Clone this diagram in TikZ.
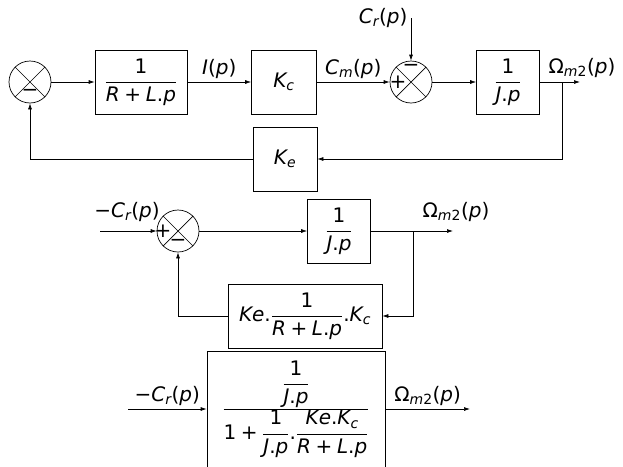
\documentclass[tikz,border=0pt]{standalone}
\usepackage[no-math]{fontspec}
\setmainfont{DejaVu Sans}
\newfontfamily\dvsfam[NFSSFamily=dvs]{DejaVu Sans}
\DeclareSymbolFont{dvsit}{TU}{dvs}{m}{it}
\DeclareSymbolFont{dvsup}{TU}{dvs}{m}{n}
\newcount\mch
\AtBeginDocument{%
 \mch=`A \loop \Umathcode\mch=0 \symdvsit\mch \advance\mch 1 \ifnum\mch<`[ \repeat
 \mch=`a \loop \Umathcode\mch=0 \symdvsit\mch \advance\mch 1 \ifnum\mch<`\{ \repeat
 \mch=`0 \loop \Umathcode\mch=0 \symdvsup\mch \advance\mch 1 \ifnum\mch<`: \repeat
 \Umathcode`+=2 \symdvsup `+
 \Umathcode`-=2 \symdvsup "2212
 \Umathcode`(=4 \symdvsup `(
 \Umathcode`)=5 \symdvsup `)
 \Umathcode`.=0 \symdvsup `.
 \Umathchardef\Omega=0 \symdvsup "03A9 }
\usepackage{tikz}
\usetikzlibrary{arrows.meta,positioning}

\begin{document}
\begin{tikzpicture}[x=1pt,y=-1pt,font=\fontsize{20}{24}\selectfont,line width=0.7pt,
 blk/.style={draw,minimum width=#1,minimum height=64pt,inner sep=2pt},
 sum/.style={draw,circle,minimum size=42pt,inner sep=0pt},
 sgn/.style={inner sep=0pt},
 >={Latex[length=6pt,width=4pt]}]
\useasboundingbox (0,0) rectangle (623,466);
% motor loop
\node[sum] (sA) at (30,82) {};
\node[blk=92pt] (tfA) at (141,82) {$\displaystyle\frac{1}{R+L.p}$};
\node[blk=65pt] (kc) at (284,82) {$K_c$};
\node[sum] (sB) at (411,82) {};
\node[blk=63pt] (tfB) at (508,82) {$\displaystyle\frac{1}{J.p}$};
\node[blk=64pt] (ke) at (285,159) {$K_e$};
\coordinate (crA) at (411,18);
\coordinate (bA) at (562,82);
\coordinate (oA) at (580,82);
\draw (sA.45) -- (sA.225) (sA.135) -- (sA.315);
\draw (sB.45) -- (sB.225) (sB.135) -- (sB.315);
\node[sgn] at ([yshift=-11pt]sA.center) {$-$};
\node[sgn] at ([yshift=14pt]sB.center) {$-$};
\node[sgn] at ([xshift=-13pt]sB.center) {$+$};
\draw[->] (sA) -- (tfA);
\draw[->] (tfA) -- node[above] {$I(p)$} (kc);
\draw[->] (kc) -- node[above] {$C_m(p)$} (sB);
\draw[->] (crA) node[left] {$C_r(p)$} -- (sB);
\draw[->] (sB) -- (tfB);
\draw[->] (tfB) -- (oA);
\node at (582,68) {$\Omega_{m2}(p)$};
\draw[->] (bA) |- (ke);
\draw[->] (ke) -| (sA);
% reduced loop
\coordinate (cIn) at (100,231);
\node[sum] (sC) at (178,231) {};
\node[blk=63pt] (tfC) at (339,231) {$\displaystyle\frac{1}{J.p}$};
\node[blk=154pt] (fbC) at (305,316) {$Ke.\displaystyle\frac{1}{R+L.p}.K_c$};
\coordinate (bC) at (413,231);
\coordinate (oC) at (453,231);
\draw (sC.45) -- (sC.225) (sC.135) -- (sC.315);
\node[sgn] at ([xshift=-15pt]sC.center) {$+$};
\node[sgn] at ([yshift=-12pt]sC.center) {$-$};
\node at (127,212) {$-C_r(p)$};
\node at (456,212) {$\Omega_{m2}(p)$};
\draw[->] (cIn) -- (sC);
\draw[->] (sC) -- (tfC);
\draw[->] (tfC) -- (oC);
\draw[->] (bC) |- (fbC);
\draw[->] (fbC) -| (sC);
% closed loop
\node[blk=178pt,minimum height=116pt] (tfD) at (296,409)
 {$\displaystyle\frac{\displaystyle\frac{1}{J.p}}{1+\displaystyle\frac{1}{J.p}.\frac{Ke.K_c}{R+L.p}}$};
\coordinate (dIn) at (128,409);
\coordinate (dOut) at (470,409);
\draw[->] (dIn) -- node[above] {$-C_r(p)$} (tfD);
\draw[->] (tfD) -- node[above] {$\Omega_{m2}(p)$} (dOut);
\end{tikzpicture}
\end{document}
